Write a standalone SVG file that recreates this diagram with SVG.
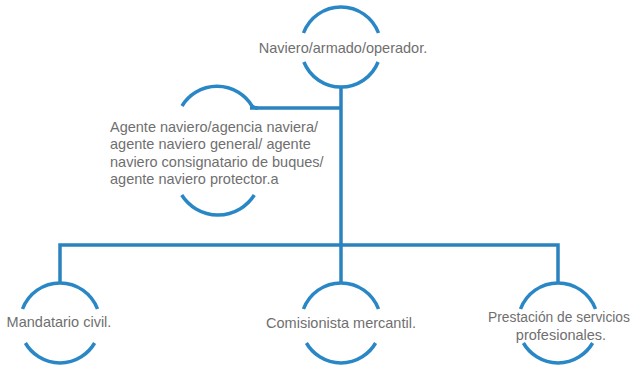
<svg xmlns="http://www.w3.org/2000/svg" width="633" height="368" viewBox="0 0 633 368">
  <style>
    .arc { fill: none; stroke: #2a87c6; stroke-width: 3.5; stroke-linecap: butt; }
    .conn { fill: none; stroke: #2a82bf; stroke-width: 3.5; stroke-linejoin: miter; }
    .lbl { font-family: "Liberation Sans", Arial, sans-serif; font-size: 14.5px; fill: #6f6f6f; }
  </style>
  <rect width="633" height="368" fill="#ffffff"/>
  <g id="connectors">
    <path class="conn" d="M341 87 V283"/>
    <path class="conn" d="M250 108 H341"/>
    <path class="conn" d="M60 283 V245 H558 V283"/>
  </g>
  <g id="node-naviero">
    <path class="arc" d="M303.5 33 A40 40 0 0 1 378.5 33"/>
    <path class="arc" d="M303.9 62 A40 40 0 0 0 378.1 62"/>
    <text class="lbl" x="343" y="53" text-anchor="middle">Naviero/armado/operador.</text>
  </g>
  <g id="node-agente">
    <path class="arc" d="M182 106 A41 41 0 0 1 252 106 Q254 108 258 108"/>
    <path class="arc" d="M181.7 195 A43 43 0 0 0 254.3 195"/>
    <text class="lbl" x="110" y="132">Agente naviero/agencia naviera/</text>
    <text class="lbl" x="110" y="149">agente naviero general/ agente</text>
    <text class="lbl" x="110" y="167">naviero consignatario de buques/</text>
    <text class="lbl" x="110" y="184">agente naviero protector.a</text>
  </g>
  <g id="node-mandatario">
    <path class="arc" d="M22.5 309 A40 40 0 0 1 97.5 309"/>
    <path class="arc" d="M25.4 343 A40 40 0 0 0 94.6 343"/>
    <text class="lbl" x="59" y="327" text-anchor="middle">Mandatario civil.</text>
  </g>
  <g id="node-comisionista">
    <path class="arc" d="M303.5 309 A40 40 0 0 1 378.5 309"/>
    <path class="arc" d="M306.4 343 A40 40 0 0 0 375.6 343"/>
    <text class="lbl" x="341" y="328" text-anchor="middle">Comisionista mercantil.</text>
  </g>
  <g id="node-prestacion">
    <path class="arc" d="M520.5 309 A40 40 0 0 1 595.5 309"/>
    <path class="arc" d="M523.4 343 A40 40 0 0 0 592.6 343"/>
    <text class="lbl" x="559" y="322" text-anchor="middle" style="font-size:13.8px">Prestación de servicios</text>
    <text class="lbl" x="561" y="340" text-anchor="middle">profesionales.</text>
  </g>
</svg>
